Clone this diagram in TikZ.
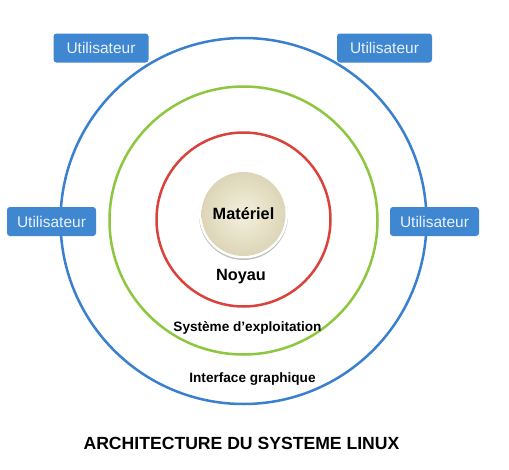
\documentclass[tikz,border=0pt]{standalone}
\usepackage{fontspec}
\setmainfont{Liberation Sans}
\usetikzlibrary{shapes.geometric}
\definecolor{ublue}{HTML}{3F87D0}
\definecolor{cblue}{HTML}{3A80CF}
\definecolor{cgreen}{HTML}{8DC63F}
\definecolor{cred}{HTML}{D9433B}
\definecolor{txtw}{HTML}{EAF2FB}
\definecolor{beigein}{HTML}{F4F0DC}
\definecolor{beigeout}{HTML}{DCD5B8}
\tikzset{
  ring/.style={draw, line width=2.5pt, circle, inner sep=0pt, fill=none},
  userbox/.style={draw=none, fill=ublue, rounded corners=3pt, text=txtw,
    minimum width=95pt, minimum height=29pt, inner sep=0pt,
    font=\fontsize{15.5}{18}\selectfont},
  lbl/.style={font=\bfseries\fontsize{13.6}{16}\selectfont, text=black, inner sep=0pt},
  biglbl/.style={font=\bfseries\fontsize{16.3}{19}\selectfont, text=black, inner sep=0pt},
}
\begin{document}
\begin{tikzpicture}[x=1pt,y=-1pt]
\useasboundingbox[fill=white] (0,0) rectangle (509,469);
% rings
\node[ring, draw=cblue, minimum size=366pt] (outer) at (243.5,221) {};
\node[ring, draw=cgreen, minimum size=268pt] (middle) at (243.5,220.5) {};
\node[ring, draw=cred, minimum size=174pt] (inner) at (243.5,219.5) {};
% hardware disc
\fill[black!25] (243.5,215.5) circle (44.5pt);
\fill[white] (243.5,214) circle (44.5pt);
\node[circle, minimum size=84pt, inner sep=0pt, inner color=beigein, outer color=beigeout] (hw) at (243.5,214) {};
\node[biglbl] (materiel) at (243.5,214) {Matériel};
\node[biglbl] (noyau) at (241,277) {Noyau};
\node[lbl] (os) at (247.5,328) {Système d’exploitation};
\node[lbl] (gui) at (252.5,379) {Interface graphique};
% users
\node[userbox] (u1) at (101,48) {Utilisateur};
\node[userbox] (u2) at (384.5,48) {Utilisateur};
\node[userbox, minimum width=89pt] (u3) at (51.5,221.5) {Utilisateur};
\node[userbox, minimum width=89pt] (u4) at (434.5,221.5) {Utilisateur};
% title
\node[font=\bfseries\fontsize{17.6}{21}\selectfont, inner sep=0pt] (title) at (241.5,443) {ARCHITECTURE DU SYSTEME LINUX};
\end{tikzpicture}
\end{document}
